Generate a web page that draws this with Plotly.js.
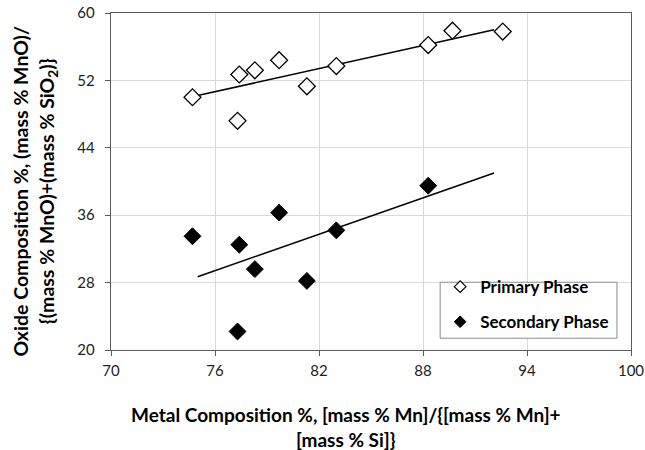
<!DOCTYPE html>
<html>
<head>
<meta charset="utf-8">
<script src="https://cdn.plot.ly/plotly-3.0.1.min.js"></script>
<style>html,body{margin:0;padding:0;background:#fff;}#chart{width:645px;height:450px;}</style>
</head>
<body>
<div id="chart"></div>
<script>
// Primary phase (open diamonds)
var primaryX = [74.7, 77.4, 78.3, 79.7, 77.3, 81.3, 83.0, 88.3, 89.7, 92.6];
var primaryY = [50.0, 52.7, 53.2, 54.4, 47.2, 51.3, 53.7, 56.2, 57.9, 57.8];
// Secondary phase (filled diamonds)
var secondaryX = [74.7, 77.4, 79.7, 78.3, 81.3, 83.0, 88.3, 77.3];
var secondaryY = [33.5, 32.5, 36.3, 29.6, 28.2, 34.2, 39.5, 22.2];
// Trend line end points
var primaryTrendX = [75.0, 92.1];
var primaryTrendY = [50.2, 58.0];
var secondaryTrendX = [75.0, 92.1];
var secondaryTrendY = [28.7, 41.0];
// Axis ticks
var xTicks = [70, 76, 82, 88, 94, 100];
var yTicks = [20, 28, 36, 44, 52, 60];
var seriesNames = ['Primary Phase', 'Secondary Phase'];

var FONT = 'Lato, "Open Sans", sans-serif';

var traces = [
  {x: primaryTrendX, y: primaryTrendY, mode: 'lines', line: {color: '#000', width: 1.5}, showlegend: false, hoverinfo: 'skip'},
  {x: secondaryTrendX, y: secondaryTrendY, mode: 'lines', line: {color: '#000', width: 1.5}, showlegend: false, hoverinfo: 'skip'},
  {x: primaryX, y: primaryY, mode: 'markers', name: seriesNames[0], showlegend: false,
   marker: {symbol: 'diamond', size: 13, color: '#fff', line: {color: '#000', width: 1.3}}},
  {x: secondaryX, y: secondaryY, mode: 'markers', name: seriesNames[1], showlegend: false,
   marker: {symbol: 'diamond', size: 13, color: '#000', line: {color: '#000', width: 1}}},
  // legend entries (smaller symbols, as in the reference legend)
  {x: [null], y: [null], mode: 'markers', name: seriesNames[0], legendgroup: 'a',
   marker: {symbol: 'diamond', size: 9, color: '#fff', line: {color: '#000', width: 1.2}}},
  {x: [null], y: [null], mode: 'markers', name: seriesNames[1], legendgroup: 'b',
   marker: {symbol: 'diamond', size: 9, color: '#000', line: {color: '#000', width: 1}}}
];

var layout = {
  width: 645, height: 450,
  margin: {l: 111, r: 14, t: 13, b: 100},
  paper_bgcolor: '#fff', plot_bgcolor: '#fff',
  font: {family: FONT, color: '#000'},
  showlegend: true,
  legend: {x: 0.633, y: 0.24, xanchor: 'left', yanchor: 'top',
    bgcolor: 'rgba(0,0,0,0)', borderwidth: 0,
    font: {family: FONT, size: 17, color: '#000', weight: 'bold'},
    traceorder: 'grouped', tracegroupgap: 10, itemwidth: 30},
  shapes: [
    {type: 'rect', xref: 'paper', yref: 'paper', x0: 0.633, x1: 0.973, y0: 0.035, y1: 0.201,
     fillcolor: '#fff', line: {color: '#8c8c8c', width: 1}, layer: 'above'}
  ],
  xaxis: {range: [70, 100], tickvals: xTicks, ticktext: xTicks.map(String),
    showgrid: true, gridcolor: '#d9d9d9', gridwidth: 1,
    showline: true, linecolor: '#595959', linewidth: 1.3, mirror: true,
    ticks: 'outside', ticklen: 5, tickcolor: '#595959', ticklabelstandoff: 2,
    tickfont: {family: FONT, size: 15, color: '#222'}, zeroline: false},
  yaxis: {range: [20, 60], tickvals: yTicks, ticktext: yTicks.map(String),
    showgrid: true, gridcolor: '#d9d9d9', gridwidth: 1,
    showline: true, linecolor: '#595959', linewidth: 1.3, mirror: true,
    ticks: 'outside', ticklen: 5, tickcolor: '#595959', ticklabelstandoff: 7,
    tickfont: {family: FONT, size: 15, color: '#222'}, zeroline: false},
  annotations: [
    {text: '<b>Metal Composition %, [mass % Mn]/{[mass % Mn]+<br>[mass % Si]}</b>',
     xref: 'paper', yref: 'paper', x: (346 - 111) / 520, y: -0.15, xanchor: 'center', yanchor: 'top',
     showarrow: false, font: {family: FONT, size: 19, color: '#000'}},
    {text: '<b>Oxide Composition %, (mass % MnO)/<br>{(mass % MnO)+(mass % SiO<sub>2</sub>)}</b>',
     xref: 'paper', yref: 'paper', x: (35 - 111) / 520, y: 0.47, xanchor: 'center', yanchor: 'middle', textangle: -90,
     showarrow: false, font: {family: FONT, size: 19.5, color: '#000'}}
  ]
};

Plotly.newPlot('chart', traces, layout, {displayModeBar: false, staticPlot: true});
</script>
</body>
</html>
